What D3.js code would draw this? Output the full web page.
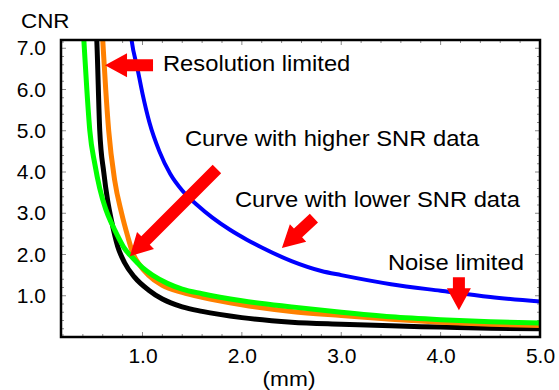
<!DOCTYPE html>
<html>
<head>
<meta charset="utf-8">
<script src="https://cdn.jsdelivr.net/npm/d3@7"></script>
<style>
  body { margin: 0; background: #fff; }
  svg { display: block; font-family: "Liberation Sans", Arial, sans-serif; }
</style>
</head>
<body>
<svg width="559" height="390"></svg>
<script>
// curves: [resolution (mm), CNR]
const blackCurve = [[0.52,8.0],[0.54,7.2],[0.57,5.0],[0.61,4.0],[0.65,3.3],[0.69,2.8],[0.75,2.2],[0.82,1.8],[0.92,1.45],[1.06,1.14],[1.2,0.92],[1.4,0.73],[1.6,0.62],[2.0,0.47],[2.5,0.36],[3.0,0.31],[3.5,0.27],[4.0,0.24],[4.5,0.21],[5.0,0.2]];
const greenCurve = [[0.39,8.0],[0.41,7.2],[0.44,6.0],[0.47,5.0],[0.52,4.2],[0.57,3.6],[0.63,3.1],[0.69,2.75],[0.75,2.45],[0.81,2.18],[0.9,1.92],[1.0,1.68],[1.1,1.5],[1.25,1.3],[1.4,1.16],[1.6,1.05],[2.0,0.88],[2.5,0.73],[3.0,0.6],[3.5,0.49],[4.0,0.42],[4.5,0.37],[5.0,0.34]];
const orangeCurve = [[0.58,8.0],[0.60,7.2],[0.63,6.0],[0.66,5.0],[0.72,3.8],[0.79,3.0],[0.85,2.45],[0.9,2.05],[0.97,1.75],[1.06,1.5],[1.2,1.25],[1.4,1.08],[1.6,0.96],[2.0,0.78],[2.5,0.62],[3.0,0.52],[3.5,0.43],[4.0,0.36],[4.5,0.31],[5.0,0.28]];
const blueCurve = [[0.87,7.6],[0.89,7.2],[0.95,6.5],[1.0,5.9],[1.07,5.2],[1.17,4.5],[1.28,3.95],[1.4,3.55],[1.55,3.2],[1.7,2.9],[1.88,2.6],[2.05,2.36],[2.2,2.17],[2.5,1.84],[2.8,1.6],[3.0,1.5],[3.5,1.28],[4.0,1.12],[4.5,0.97],[5.0,0.86]];

const xTicks = [1, 2, 3, 4, 5];
const yTicks = [1, 2, 3, 4, 5, 6, 7];

// annotations: [tail, tip] in data units, label text + anchor
const arrows = [
  { from: [1.106, 6.59], to: [0.623, 6.59] },
  { from: [1.749, 4.07], to: [0.874, 1.96] },
  { from: [2.725, 2.88], to: [2.403, 2.16] },
  { from: [4.184, 1.45], to: [4.184, 0.65] }
];
const notes = [
  { text: "Resolution limited", at: [1.206, 6.45] },
  { text: "Curve with higher SNR data", at: [1.427, 4.63] },
  { text: "Curve with lower SNR data", at: [1.93, 3.15] },
  { text: "Noise limited", at: [3.47, 1.62] }
];

const svg = d3.select("svg");
const mLeft = 61, mRight = 540, mTop = 40, mBottom = 337;

const x = d3.scaleLinear().domain([0.18, 5]).range([mLeft, mRight]);
const y = d3.scaleLinear().domain([0, 7.2]).range([mBottom, mTop]);

svg.append("defs").append("clipPath").attr("id", "plot")
  .append("rect").attr("x", mLeft).attr("y", mTop)
  .attr("width", mRight - mLeft).attr("height", mBottom - mTop);

// minor / major ticks, drawn inwards on all four sides
const tickG = svg.append("g").attr("stroke", "#888").attr("stroke-width", 1);
d3.range(0.2, 5.001, 0.2).forEach(v => {
  const major = Math.abs(v - Math.round(v)) < 1e-6;
  const len = major ? 5 : 3;
  const px = x(v);
  tickG.append("line").attr("x1", px).attr("x2", px).attr("y1", mBottom).attr("y2", mBottom - len);
  tickG.append("line").attr("x1", px).attr("x2", px).attr("y1", mTop).attr("y2", mTop + len);
});
d3.range(0.2, 7.201, 0.2).forEach(v => {
  const major = Math.abs(v - Math.round(v)) < 1e-6;
  const len = major ? 5 : 3;
  const py = y(v);
  tickG.append("line").attr("x1", mLeft).attr("x2", mLeft + len).attr("y1", py).attr("y2", py);
  tickG.append("line").attr("x1", mRight).attr("x2", mRight - len).attr("y1", py).attr("y2", py);
});

// curves
const line = d3.line().x(d => x(d[0])).y(d => y(d[1])).curve(d3.curveMonotoneX);
const curves = [
  { data: blackCurve, color: "#000000", w: 5 },
  { data: orangeCurve, color: "#ff8000", w: 5 },
  { data: greenCurve, color: "#00ff00", w: 5 },
  { data: blueCurve, color: "#0000ff", w: 4 }
];
svg.append("g").attr("clip-path", "url(#plot)")
  .selectAll("path").data(curves).enter().append("path")
  .attr("d", d => line(d.data))
  .attr("fill", "none")
  .attr("stroke", d => d.color)
  .attr("stroke-width", d => d.w);

// frame
svg.append("rect").attr("x", mLeft).attr("y", mTop)
  .attr("width", mRight - mLeft).attr("height", mBottom - mTop)
  .attr("fill", "none").attr("stroke", "#000").attr("stroke-width", 2.5);

// axes (labels only)
const xAxis = svg.append("g").attr("transform", `translate(0,${mBottom})`)
  .call(d3.axisBottom(x).tickValues(xTicks).tickFormat(d3.format(".1f")).tickSize(0).tickPadding(11));
const yAxis = svg.append("g").attr("transform", `translate(${mLeft},0)`)
  .call(d3.axisLeft(y).tickValues(yTicks).tickFormat(d3.format(".1f")).tickSize(0).tickPadding(15));
[xAxis, yAxis].forEach(a => {
  a.select(".domain").remove();
  a.selectAll("text").attr("font-size", 21).attr("fill", "#000")
    .attr("font-family", "'Liberation Sans', Arial, sans-serif");
});

svg.append("text").attr("transform", "translate(21,28) scale(1.12,1)")
  .attr("font-size", 20).text("CNR");
svg.append("text").attr("transform", "translate(289,386) scale(1.08,1)")
  .attr("text-anchor", "middle").attr("font-size", 21).text("(mm)");

// red block arrows
function arrowPath(a) {
  const x0 = x(a.from[0]), y0 = y(a.from[1]);
  const x1 = x(a.to[0]), y1 = y(a.to[1]);
  const len = Math.hypot(x1 - x0, y1 - y0);
  const ang = Math.atan2(y1 - y0, x1 - x0) * 180 / Math.PI;
  const sw = 6, hw = 12, hl = 22;
  const pts = [[0, -sw], [len - hl, -sw], [len - hl, -hw], [len, 0], [len - hl, hw], [len - hl, sw], [0, sw]];
  return { d: "M" + pts.map(p => p.join(",")).join("L") + "Z", t: `translate(${x0},${y0}) rotate(${ang})` };
}
svg.append("g").selectAll("path").data(arrows).enter().append("path")
  .attr("d", d => arrowPath(d).d)
  .attr("transform", d => arrowPath(d).t)
  .attr("fill", "#ff0000");

svg.append("g").selectAll("text").data(notes).enter().append("text")
  .attr("transform", d => `translate(${x(d.at[0])},${y(d.at[1])}) scale(1.08,1)`)
  .attr("font-size", 22).attr("fill", "#000")
  .text(d => d.text);
</script>
</body>
</html>
